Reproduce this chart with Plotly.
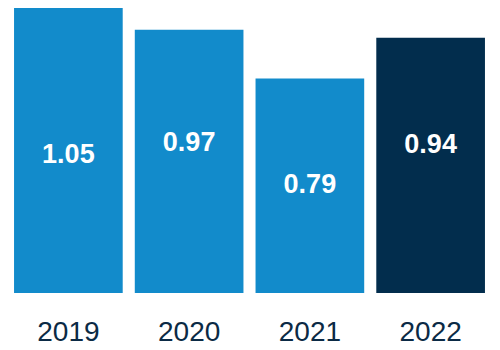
import plotly.graph_objects as go

years = ["2019", "2020", "2021", "2022"]
values = [1.05, 0.97, 0.79, 0.94]
labels = ["1.05", "0.97", "0.79", "0.94"]
colors = ["#128bcb", "#128bcb", "#128bcb", "#022d4d"]

# vertical placement of the value labels inside each bar (data units)
label_pos = [0.505, 0.547, 0.395, 0.542]

fig = go.Figure()
fig.add_trace(go.Bar(
    x=years, y=values,
    marker=dict(color=colors, line=dict(width=0)),
    hoverinfo="skip",
))
fig.add_trace(go.Scatter(
    x=years, y=label_pos, text=labels, mode="text",
    textposition="middle center",
    textfont=dict(family="Liberation Sans, Arial", size=27, color="white", weight="bold"),
    hoverinfo="skip",
))
fig.update_layout(
    width=500, height=350,
    margin=dict(l=8, r=9, t=8, b=57, autoexpand=False),
    paper_bgcolor="white", plot_bgcolor="white",
    bargap=0.1, showlegend=False,
)
fig.update_xaxes(type="category", range=[-0.5, 3.5], showgrid=False, showline=False,
                 zeroline=False, automargin=False,
                 tickfont=dict(family="Liberation Sans, Arial", size=28, color="#0b2a45"),
                 ticks="", ticklabelstandoff=19)
fig.update_yaxes(visible=False, range=[0, 1.05], automargin=False)
fig.write_html("out.html")
